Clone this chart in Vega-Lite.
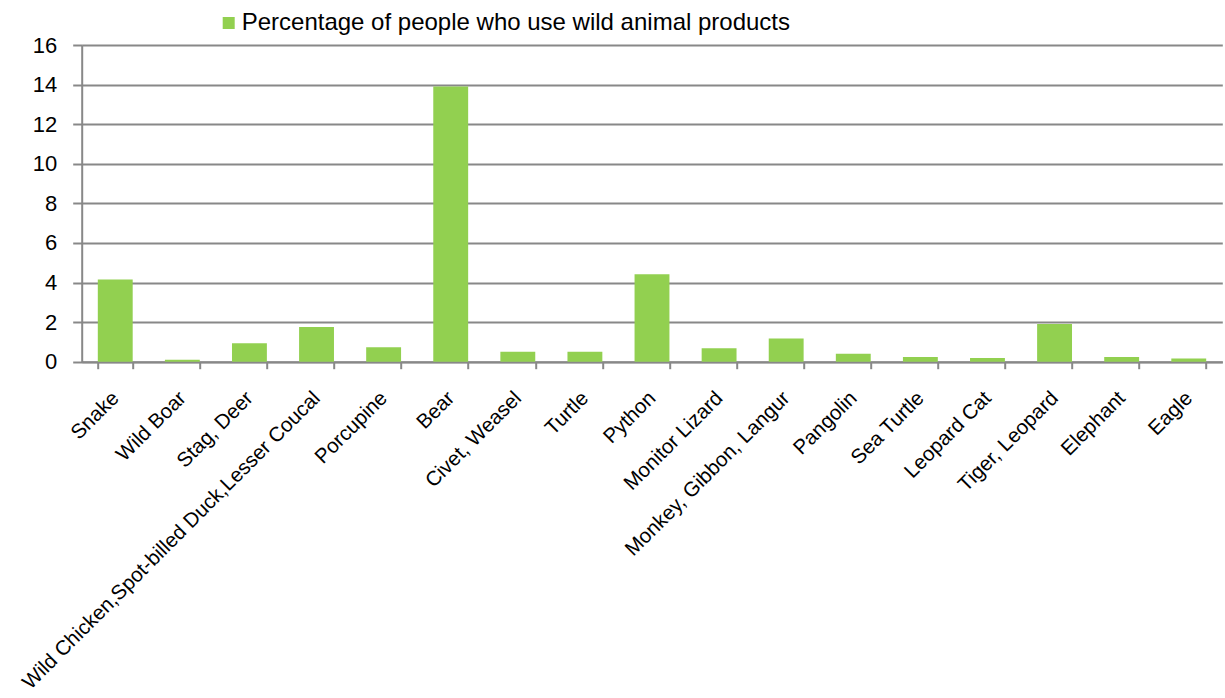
{
  "$schema": "https://vega.github.io/schema/vega-lite/v6.json",
  "width": 1140.6,
  "height": 316.7,
  "autosize": {"type": "none"},
  "padding": {"left": 81.7, "top": 45, "right": 2.7, "bottom": 336.3},
  "background": "white",
  "config": {
    "view": {"stroke": null},
    "font": "Liberation Sans"
  },
  "data": {
    "values": [
      {"animal": "Snake", "value": 4.15, "series": "Percentage of people who use wild animal products"},
      {"animal": "Wild Boar", "value": 0.1, "series": "Percentage of people who use wild animal products"},
      {"animal": "Stag, Deer", "value": 0.93, "series": "Percentage of people who use wild animal products"},
      {"animal": "Wild Chicken,Spot-billed Duck,Lesser Coucal", "value": 1.75, "series": "Percentage of people who use wild animal products"},
      {"animal": "Porcupine", "value": 0.73, "series": "Percentage of people who use wild animal products"},
      {"animal": "Bear", "value": 13.9, "series": "Percentage of people who use wild animal products"},
      {"animal": "Civet, Weasel", "value": 0.5, "series": "Percentage of people who use wild animal products"},
      {"animal": "Turtle", "value": 0.5, "series": "Percentage of people who use wild animal products"},
      {"animal": "Python", "value": 4.42, "series": "Percentage of people who use wild animal products"},
      {"animal": "Monitor Lizard", "value": 0.68, "series": "Percentage of people who use wild animal products"},
      {"animal": "Monkey, Gibbon, Langur", "value": 1.17, "series": "Percentage of people who use wild animal products"},
      {"animal": "Pangolin", "value": 0.4, "series": "Percentage of people who use wild animal products"},
      {"animal": "Sea Turtle", "value": 0.24, "series": "Percentage of people who use wild animal products"},
      {"animal": "Leopard Cat", "value": 0.19, "series": "Percentage of people who use wild animal products"},
      {"animal": "Tiger, Leopard", "value": 1.91, "series": "Percentage of people who use wild animal products"},
      {"animal": "Elephant", "value": 0.24, "series": "Percentage of people who use wild animal products"},
      {"animal": "Eagle", "value": 0.16, "series": "Percentage of people who use wild animal products"}
    ]
  },
  "mark": {"type": "bar"},
  "encoding": {
    "x": {
      "field": "animal",
      "type": "nominal",
      "sort": null,
      "scale": {"paddingInner": 0.48, "paddingOuter": 0.24},
      "axis": {
        "title": null,
        "labelAngle": -45,
        "labelAlign": "right",
        "labelBaseline": "middle",
        "labelFontSize": 20.5,
        "labelColor": "black",
        "labelPadding": 26,
        "labelDx": 6.4,
        "labelDy": 6.4,
        "labelLimit": 600,
        "labelOverlap": false,
        "tickBand": "extent",
        "tickSize": 7,
        "tickColor": "#888888",
        "tickWidth": 2,
        "domainColor": "#888888",
        "domainWidth": 2,
        "grid": false
      }
    },
    "y": {
      "field": "value",
      "type": "quantitative",
      "scale": {"domain": [0, 16]},
      "axis": {
        "title": null,
        "values": [0, 2, 4, 6, 8, 10, 12, 14, 16],
        "labelFontSize": 22,
        "labelColor": "black",
        "labelPadding": 16,
        "tickSize": 9,
        "tickColor": "#888888",
        "tickWidth": 2,
        "domainColor": "#888888",
        "domainWidth": 2,
        "grid": true,
        "gridColor": "#888888",
        "gridWidth": 2
      }
    },
    "color": {
      "field": "series",
      "type": "nominal",
      "scale": {"range": ["#92D050"]},
      "legend": {
        "title": null,
        "orient": "none",
        "legendX": 135,
        "legendY": -34,
        "symbolType": "square",
        "symbolSize": 144,
        "symbolStrokeWidth": 0,
        "labelOffset": 1,
        "labelFontSize": 24,
        "labelColor": "black",
        "labelLimit": 900
      }
    }
  }
}
